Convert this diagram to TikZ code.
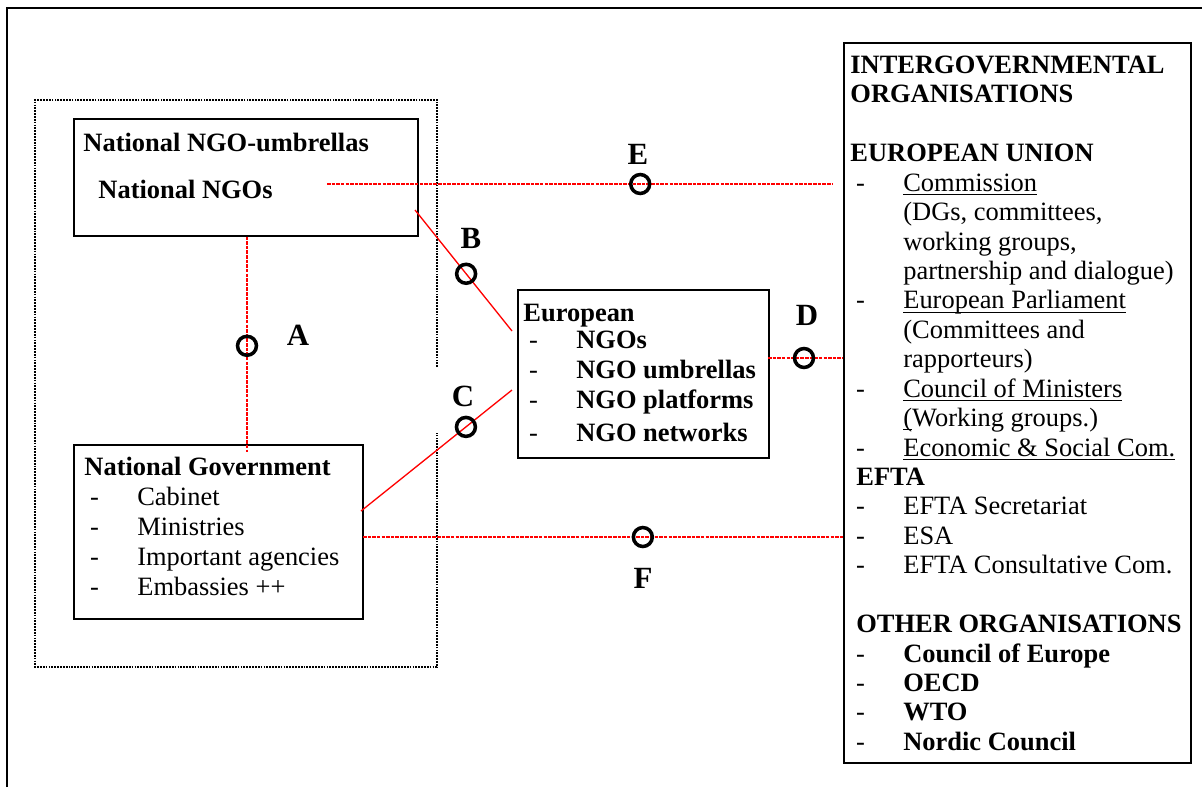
\documentclass[tikz,border=0pt]{standalone}
\usepackage{fontspec}
\setmainfont{Liberation Serif}
\usetikzlibrary{positioning, calc}
\newcommand{\px}{0.4536pt}
\newcommand{\dashitem}{\hspace*{2.6pt}\makebox[21.4pt][l]{-}}
\newcommand{\contline}{\hspace*{24pt}}
\newcommand{\firstrow}{\rule{0pt}{10pt}}
\newcommand{\uln}[1]{\underline{\raisebox{0pt}[\height][0pt]{#1}}}

\begin{document}
\begin{tikzpicture}[
    x=0.4536pt, y=-0.4536pt,
    box/.style={draw, line width=0.7pt, anchor=north west, inner sep=0pt},
    txt/.style={
      anchor=north west,
      inner sep=0pt,
      yshift=10pt,
      align=left,
      font=\fontsize{12}{13.6}\selectfont,
    },
    link/.style={draw=red, line width=0.6pt, dash pattern=on 1.6pt off 0.5pt},
    solidlink/.style={draw=red, line width=0.6pt},
    ring/.style={circle, draw=black, solid, line width=1.6pt, minimum size=8.6pt, inner sep=0pt},
    tag/.style={font=\fontsize{14}{16}\selectfont\bfseries, inner sep=0pt},
  ]
    \useasboundingbox (0,0) rectangle (1202,787);

    % frame and national area
    \draw[line width=1pt] (7,787) -- (7,8) -- (1202,8);
    \draw[dash pattern=on 0.8pt off 0.5pt, line width=0.6pt] (437,367) -- (437,100) -- (35,100) -- (35,667) -- (437,667) -- (437,433);

    % boxes
    \node[box, minimum width=344*\px, minimum height=117*\px] (natngo) at (73,118) {};
    \node[box, minimum width=289*\px, minimum height=174*\px] (gov) at (73,444) {};
    \node[box, minimum width=251*\px, minimum height=168*\px] (euro) at (517,289) {};
    \node[box, minimum width=347*\px, minimum height=720*\px] (igo) at (843,42) {};

    \node[txt] (natngo-text) at (83,151) {%
      \firstrow\textbf{National NGO-umbrellas}\\[7.7pt]
      \hspace*{6.8pt}\textbf{National NGOs}%
    };
    \node[txt] (gov-text) at (84,475) {%
      \firstrow\textbf{National Government}\\
      \dashitem Cabinet\\
      \dashitem Ministries\\
      \dashitem Important agencies\\
      \dashitem Embassies ++%
    };
    \node[txt] (euro-text) at (523,321) {%
      \firstrow\textbf{European}\\[-1.3pt]
      \dashitem\textbf{NGOs}\\
      \dashitem\textbf{NGO umbrellas}\\
      \dashitem\textbf{NGO platforms}\\[1.3pt]
      \dashitem\textbf{NGO networks}%
    };
    \node[txt, font=\fontsize{12}{13.35}\selectfont] (igo-text) at (850,73) {%
      \firstrow\textbf{INTERGOVERNMENTAL}\\
      \textbf{ORGANISATIONS}\\[13.35pt]
      \textbf{EUROPEAN UNION}\\
      \dashitem\uln{Commission}\\
      \contline(DGs, committees,\\
      \contline working groups,\\
      \contline partnership and dialogue)\\
      \dashitem\uln{European Parliament}\\
      \contline(Committees and\\
      \contline rapporteurs)\\
      \dashitem\uln{Council of Ministers}\\
      \contline\uln{(}Working groups.)\\
      \dashitem\uln{Economic \& Social Com.}\\
      \hspace*{2.7pt}\textbf{EFTA}\\
      \dashitem EFTA Secretariat\\
      \dashitem ESA\\
      \dashitem EFTA Consultative Com.\\[13.35pt]
      \hspace*{2.7pt}\textbf{OTHER ORGANISATIONS}\\
      \dashitem\textbf{Council of Europe}\\
      \dashitem\textbf{OECD}\\
      \dashitem\textbf{WTO}\\
      \dashitem\textbf{Nordic Council}%
    };

    % links
    \coordinate (aEnd) at (247,452);
    \coordinate (eStart) at (327,184);
    \coordinate (bStart) at (415,210);
    \coordinate (bEnd) at (512,331);
    \coordinate (cStart) at (361,511);
    \coordinate (cEnd) at (512,390);
    \coordinate (dStart) at (768,358);
    \coordinate (fStart) at (363,537);

    \draw[link] (natngo.south -| aEnd) -- node[ring, pos=0.507] (ringA) {} (aEnd);
    \draw[link, shorten >=4.5pt] (eStart) -- node[ring, pos=0.607] (ringE) {} (eStart -| igo.west);
    \draw[solidlink] (bStart) -- node[ring, pos=0.527] (ringB) {} (bEnd);
    \draw[solidlink] (cStart) -- node[ring, pos=0.695] (ringC) {} (cEnd);
    \draw[link] (dStart) -- node[ring, pos=0.48] (ringD) {} (dStart -| igo.west);
    \draw[link] (fStart) -- node[ring, pos=0.583] (ringF) {} (fStart -| igo.west);

    \node[tag] (tagA) at (298,335) {A};
    \node[tag] (tagE) at (638,154) {E};
    \node[tag] (tagB) at (471,238) {B};
    \node[tag] (tagC) at (463,396) {C};
    \node[tag] (tagD) at (807,315) {D};
    \node[tag] (tagF) at (643,578) {F};
  \end{tikzpicture}
\end{document}
